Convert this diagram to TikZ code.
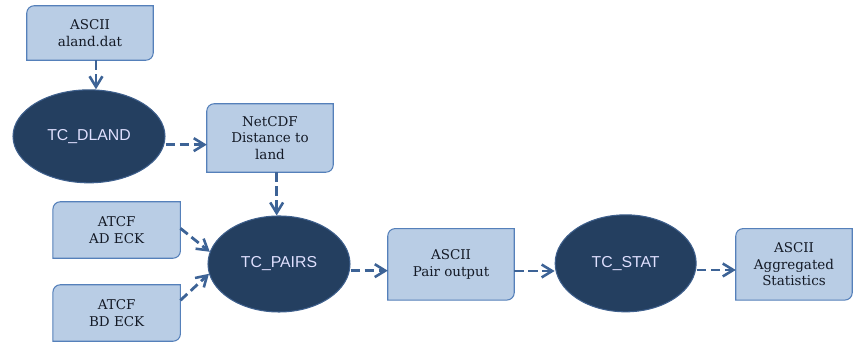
\documentclass[tikz,border=0pt]{standalone}
\usepackage{fontspec}
\usepackage{xcolor}
\usepackage{tikz}
\usetikzlibrary{shapes.geometric,arrows.meta,positioning,calc,backgrounds}
\newfontfamily\boxfont{DejaVu Serif}
\newfontfamily\procfont{Liberation Sans}
\definecolor{boxfill}{HTML}{B9CDE5}
\definecolor{boxline}{HTML}{5580BA}
\definecolor{procfill}{HTML}{243F60}
\definecolor{procline}{HTML}{3E5F8C}
\definecolor{flowcol}{HTML}{3D6396}
\definecolor{boxtext}{HTML}{141A26}
% data file: rounded top left and bottom right corners
\newcommand{\databox}[1]{%
  \filldraw[boxshape] ([yshift=-0.22cm]#1.north west)
    arc[start angle=180,end angle=90,radius=0.22cm] -- (#1.north east)
    -- ([yshift=0.22cm]#1.south east)
    arc[start angle=0,end angle=-90,radius=0.22cm] -- (#1.south west) -- cycle;}

\begin{document}
\begin{tikzpicture}[
    data/.style={rectangle, inner sep=0pt, minimum width=3.78cm, align=center,
      text=boxtext, font=\boxfont\fontsize{11.5}{14}\selectfont},
    boxshape/.style={fill=boxfill, draw=boxline, line width=0.9pt},
    proc/.style={ellipse, fill=procfill, draw=procline, line width=0.9pt,
      inner sep=0pt, minimum width=4.26cm, minimum height=2.88cm,
      text=white!88!blue, font=\procfont\fontsize{13.5}{16}\selectfont},
    flow/.style={draw=flowcol, line width=2.4pt, dash pattern=on 8pt off 4pt,
      -{Straight Barb[length=9pt,width=11pt,line width=2.2pt]}}]
    \useasboundingbox (0,0) rectangle (25.62,10.29);

    % Input files
    \node[data, minimum height=1.62cm] (aland) at (2.70,9.30) {ASCII\\aland.dat};
    \node[data, minimum width=3.81cm, minimum height=1.68cm] (adeck) at (3.50,3.39) {ATCF\\AD ECK};
    \node[data, minimum width=3.81cm, minimum height=1.68cm] (bdeck) at (3.50,0.90) {ATCF\\BD ECK};

    % Tools
    \node[proc, minimum width=4.56cm, minimum height=2.79cm] (dland) at (2.67,6.20) {TC\_DLAND};
    \node[proc] (pairs) at (8.37,2.37) {TC\_PAIRS};
    \node[proc, minimum width=4.23cm, minimum height=2.91cm] (stat) at (18.77,2.39) {TC\_STAT};

    % Output files
    \node[data, minimum height=2.04cm] (netcdf) at (8.10,6.15) {NetCDF\\Distance to\\land};
    \node[data, minimum height=2.13cm] (pairout) at (13.53,2.36) {ASCII\\Pair output};
    \node[data, minimum width=3.48cm, minimum height=2.13cm] (aggr) at (23.82,2.36) {ASCII\\Aggregated\\Statistics};

    \begin{scope}[on background layer]
      \databox{aland}
      \databox{adeck}
      \databox{bdeck}
      \databox{netcdf}
      \databox{pairout}
      \databox{aggr}
    \end{scope}

    % Flow
    \draw[flow] ([xshift=0.18cm]aland.south) -- ([xshift=0.18cm]aland.south |- dland.north);
    \draw[flow] ([yshift=-0.25cm]dland.east) -- ([yshift=-0.25cm]dland.east -| netcdf.west);
    \draw[flow] ([xshift=0.2cm]netcdf.south) -- ([xshift=0.2cm]netcdf.south |- pairs.north);
    \draw[flow] ([yshift=0.05cm]adeck.east) -- (pairs.170);
    \draw[flow] ([yshift=0.38cm]bdeck.east) -- (pairs.188);
    \draw[flow] ([yshift=-0.2cm]pairs.east) -- ([yshift=-0.2cm]pairs.east -| pairout.west);
    \draw[flow] ([yshift=-0.2cm]pairout.east) -- ([yshift=-0.2cm]pairout.east -| stat.west);
    \draw[flow] ([yshift=-0.2cm]stat.east) -- ([yshift=-0.2cm]stat.east -| aggr.west);
\end{tikzpicture}
\end{document}
